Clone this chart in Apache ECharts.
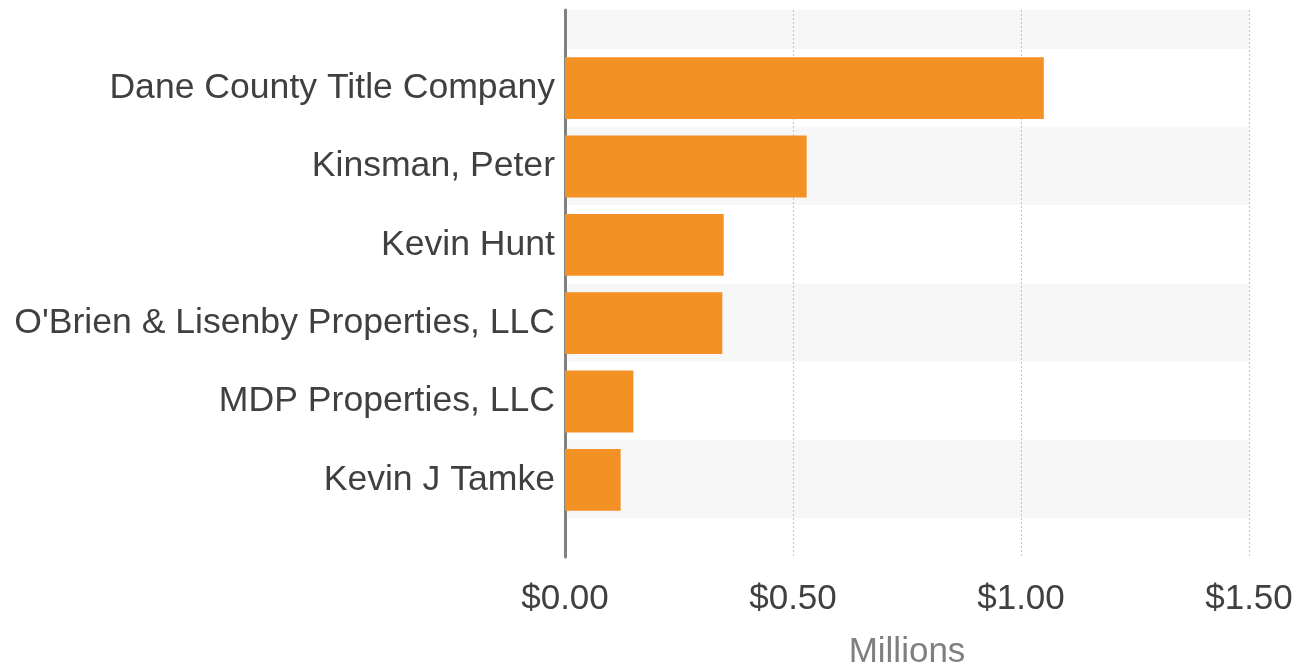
<!DOCTYPE html>
<html>
<head>
<meta charset="utf-8">
<script src="https://cdn.jsdelivr.net/npm/echarts@6/dist/echarts.min.js"></script>
<style>
html,body{margin:0;padding:0;background:#fff;}
#chart{width:1312px;height:669px;}
</style>
</head>
<body>
<div id="chart"></div>
<script>
const categories = [
  "Dane County Title Company",
  "Kinsman, Peter",
  "Kevin Hunt",
  "O'Brien & Lisenby Properties, LLC",
  "MDP Properties, LLC",
  "Kevin J Tamke"
];
const values = [1.050, 0.530, 0.348, 0.345, 0.150, 0.122]; // millions of dollars
const xTicks = [0, 0.5, 1.0, 1.5];
const xName = "Millions";

const FONT = "'Liberation Sans', Arial, sans-serif";
const chart = echarts.init(document.getElementById('chart'), null, {renderer: 'canvas'});

chart.setOption({
  animation: false,
  backgroundColor: '#ffffff',
  grid: [
    {left: 565, right: 63, top: 10, bottom: 112, containLabel: false, outerBoundsMode: 'none'},
    {left: 565, right: 63, top: 49, bottom: 150, containLabel: false, outerBoundsMode: 'none'}
  ],
  xAxis: [
    {
      gridIndex: 0, type: 'value',
      min: xTicks[0], max: xTicks[xTicks.length - 1], interval: 0.5,
      axisLine: {show: false}, axisTick: {show: false},
      axisLabel: {
        fontFamily: FONT, fontSize: 35, color: '#404040', margin: 25,
        formatter: v => '$' + v.toFixed(2)
      },
      splitLine: {show: true, lineStyle: {color: '#c4c4c4', type: [2, 2], width: 1}},
      name: xName, nameLocation: 'middle', nameGap: 78,
      nameTextStyle: {fontFamily: FONT, fontSize: 35, color: '#7f7f7f'}
    },
    {
      gridIndex: 1, type: 'value',
      min: xTicks[0], max: xTicks[xTicks.length - 1],
      show: false
    }
  ],
  yAxis: [
    {
      gridIndex: 0, type: 'value', inverse: true,
      min: 0, max: 14, interval: 1,
      axisLine: {show: true, onZero: false, lineStyle: {color: '#808080', width: 3}},
      axisTick: {show: false}, axisLabel: {show: false},
      splitLine: {show: false},
      splitArea: {show: true, areaStyle: {color: ['#f7f7f7', '#ffffff', '#ffffff', '#f7f7f7']}}
    },
    {
      gridIndex: 1, type: 'category', inverse: true,
      data: categories,
      axisLine: {show: false}, axisTick: {show: false},
      axisLabel: {fontFamily: FONT, fontSize: 35.6, color: '#404040', margin: 10, padding: [4, 0, 0, 0]}
    }
  ],
  series: [{
    type: 'bar',
    xAxisIndex: 1, yAxisIndex: 1,
    data: values,
    barWidth: '79%',
    itemStyle: {color: '#F39124'}
  }]
});
</script>
</body>
</html>
